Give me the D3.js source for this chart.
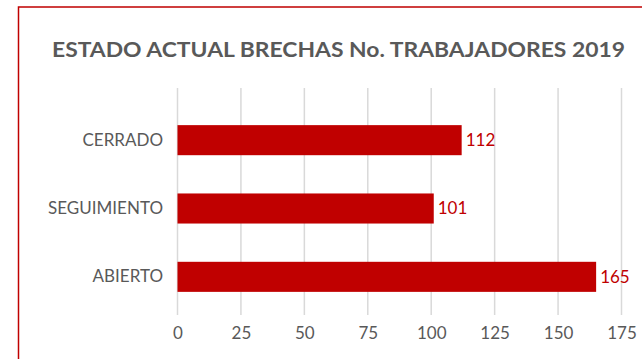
<!DOCTYPE html>
<html>
<head>
<meta charset="utf-8">
<script src="https://cdn.jsdelivr.net/npm/d3@7"></script>
<style>
  html, body { margin: 0; padding: 0; background: #ffffff; }
  svg { display: block; }
</style>
</head>
<body>
<svg id="chart" width="642" height="359"></svg>
<script>
// Chart data
const titleText = "ESTADO ACTUAL BRECHAS No. TRABAJADORES 2019";
const categories = ["CERRADO", "SEGUIMIENTO", "ABIERTO"];
const values = [112, 101, 165];
const tickValues = [0, 25, 50, 75, 100, 125, 150, 175];

const fontFamily = "Lato, 'Open Sans', 'Liberation Sans', sans-serif";
const barColor = "#c00000";
const textGray = "#595959";
const gridColor = "#d9d9d9";

const svg = d3.select("#chart");

// Outer frame of the chart
svg.append("rect")
  .attr("x", 18.5).attr("y", 7)
  .attr("width", 700).attr("height", 400)
  .attr("fill", "#ffffff")
  .attr("stroke", "#c00000")
  .attr("stroke-width", 1.5);

// Scales
const x = d3.scaleLinear().domain([0, 175]).range([177.5, 621.5]);
const y = d3.scaleBand().domain(categories).range([106, 311])
  .paddingInner(0.56).paddingOuter(0.28);

const gridTop = 88, gridBottom = 315;

// Vertical gridlines
svg.append("g")
  .selectAll("line")
  .data(tickValues)
  .join("line")
  .attr("x1", d => x(d)).attr("x2", d => x(d))
  .attr("y1", gridTop).attr("y2", gridBottom)
  .attr("stroke", gridColor)
  .attr("stroke-width", 1.5);

// Bottom axis tick labels
const xAxis = d3.axisBottom(x).tickValues(tickValues).tickSize(0).tickPadding(0);
const gx = svg.append("g")
  .attr("transform", `translate(0, ${gridBottom + 24})`)
  .call(xAxis);
gx.select(".domain").remove();
gx.selectAll("text")
  .attr("dy", 0)
  .attr("fill", textGray)
  .style("font-family", fontFamily)
  .style("font-size", "17px");

// Left category labels
const yAxis = d3.axisLeft(y).tickSize(0).tickPadding(0);
const gy = svg.append("g")
  .attr("transform", "translate(163, 0)")
  .call(yAxis);
gy.select(".domain").remove();
gy.selectAll("text")
  .attr("fill", textGray)
  .style("font-family", fontFamily)
  .style("font-size", "17px");

// Bars
svg.append("g")
  .selectAll("rect")
  .data(values)
  .join("rect")
  .attr("x", x(0))
  .attr("y", (d, i) => y(categories[i]))
  .attr("width", d => x(d) - x(0))
  .attr("height", y.bandwidth())
  .attr("fill", barColor);

// Value labels
svg.append("g")
  .selectAll("text")
  .data(values)
  .join("text")
  .attr("x", d => x(d) + 4)
  .attr("y", (d, i) => y(categories[i]) + y.bandwidth() / 2)
  .attr("dy", "0.35em")
  .attr("fill", barColor)
  .style("font-family", fontFamily)
  .style("font-size", "17px")
  .text(d => d);

// Title
svg.append("text")
  .attr("x", 338.5)
  .attr("y", 57)
  .attr("text-anchor", "middle")
  .attr("fill", textGray)
  .attr("textLength", 573)
  .attr("lengthAdjust", "spacingAndGlyphs")
  .style("font-family", fontFamily)
  .style("font-weight", "bold")
  .style("font-size", "21px")
  .text(titleText);
</script>
</body>
</html>
